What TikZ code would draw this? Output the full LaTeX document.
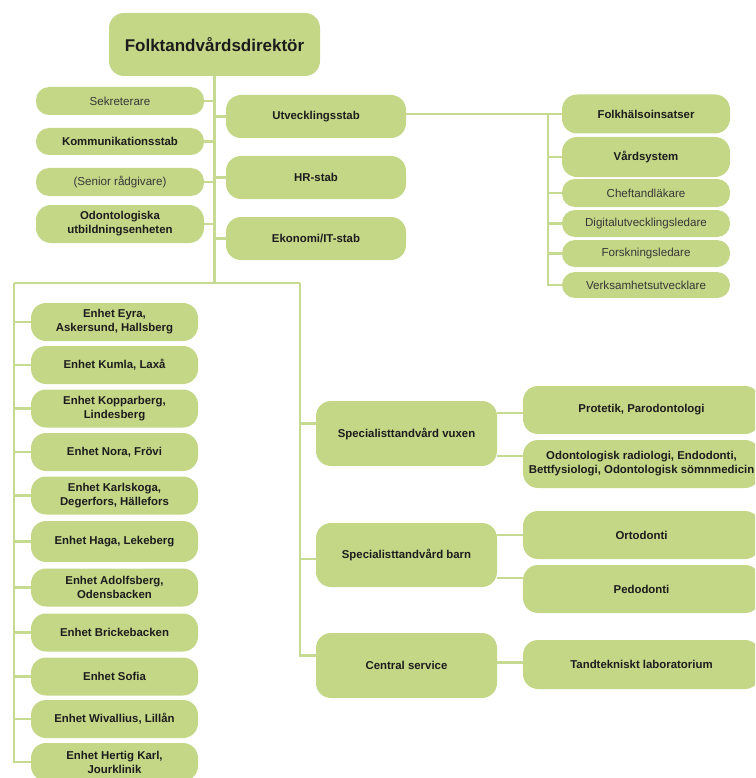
\documentclass[tikz,border=0pt]{standalone}
\usepackage{fontspec}
\setmainfont{Liberation Sans}
\definecolor{boxgreen}{RGB}{195,215,135}
\definecolor{linegreen}{RGB}{198,218,146}
\definecolor{txtdark}{RGB}{28,28,28}
\definecolor{txtgray}{RGB}{55,55,55}
\begin{document}
\begin{tikzpicture}[x=1pt,y=-1pt,
  box/.style={fill=boxgreen, draw=none, rounded corners=13pt, align=center, inner sep=0pt,
    text=txtdark, font=\fontsize{11.4}{14}\selectfont\bfseries},
  plainbox/.style={box, text=txtgray, font=\fontsize{11.6}{14}\selectfont},
  bigr/.style={rounded corners=15pt},
  conn/.style={draw=linegreen, line width=2.2pt}]
\useasboundingbox (0,0) rectangle (755,778);
\clip (0,0) rectangle (755,778);
% coordinates for connector junctions
\coordinate (tB) at (214.5,283);
\coordinate (lc) at (14,283);
\coordinate (rc) at (300,283);
\coordinate (rv) at (548,114);
% boxes
\node[box, bigr, minimum width=211pt, minimum height=63pt, font=\fontsize{17}{20}\selectfont\bfseries] (dir) at (214.5,44.5) {Folktandvårdsdirektör};
\node[plainbox, minimum width=168pt, minimum height=28pt] (sek) at (120,101) {Sekreterare};
\node[box, minimum width=168pt, minimum height=27pt] (komm) at (120,141.5) {Kommunikationsstab};
\node[plainbox, minimum width=168pt, minimum height=28pt] (sen) at (120,182) {(Senior rådgivare)};
\node[box, bigr, minimum width=168pt, minimum height=38pt] (odo) at (120,224) {Odontologiska\\utbildningsenheten};
\node[box, bigr, minimum width=180pt, minimum height=43pt] (utv) at (316,116.5) {Utvecklingsstab};
\node[box, bigr, minimum width=180pt, minimum height=43pt] (hr) at (316,177.5) {HR-stab};
\node[box, bigr, minimum width=180pt, minimum height=43pt] (eko) at (316,238.5) {Ekonomi/IT-stab};
% right staff column
\node[box, bigr, minimum width=168pt, minimum height=39pt] (fh) at (646,114) {Folkhälsoinsatser};
\node[box, bigr, minimum width=168pt, minimum height=40pt] (vs) at (646,157) {Vårdsystem};
\node[plainbox, minimum width=168pt, minimum height=28pt] (ch) at (646,193) {Cheftandläkare};
\node[plainbox, minimum width=168pt, minimum height=27pt] (dig) at (646,223.5) {Digitalutvecklingsledare};
\node[plainbox, minimum width=168pt, minimum height=27pt] (fo) at (646,253.5) {Forskningsledare};
\node[plainbox, minimum width=168pt, minimum height=26pt] (ve) at (646,285) {Verksamhetsutvecklare};
% units
\begin{scope}[every node/.style={box, bigr, minimum width=167pt, minimum height=38pt}]
\node (u1) at (114.5,322) {Enhet Eyra,\\Askersund, Hallsberg};
\node (u2) at (114.5,365) {Enhet Kumla, Laxå};
\node (u3) at (114.5,408.5) {Enhet Kopparberg,\\Lindesberg};
\node (u4) at (114.5,452) {Enhet Nora, Frövi};
\node (u5) at (114.5,495.5) {Enhet Karlskoga,\\Degerfors, Hällefors};
\node[minimum height=41pt] (u6) at (114.5,541.5) {Enhet Haga, Lekeberg};
\node (u7) at (114.5,587.5) {Enhet Adolfsberg,\\Odensbacken};
\node (u8) at (114.5,632.5) {Enhet Brickebacken};
\node (u9) at (114.5,676.5) {Enhet Sofia};
\node (u10) at (114.5,719) {Enhet Wivallius, Lillån};
\node (u11) at (114.5,762) {Enhet Hertig Karl,\\Jourklinik};
\end{scope}
% specialist
\node[box, bigr, minimum width=181pt, minimum height=65pt] (sv) at (406.5,433.5) {Specialisttandvård vuxen};
\node[box, bigr, minimum width=181pt, minimum height=64pt] (sb) at (406.5,555) {Specialisttandvård barn};
\node[box, bigr, minimum width=181pt, minimum height=65pt] (cs) at (406.5,665.5) {Central service};
\node[box, bigr, minimum width=237pt, minimum height=48pt] (pro) at (641.5,410) {Protetik, Parodontologi};
\node[box, bigr, minimum width=237pt, minimum height=48pt] (rad) at (641.5,464) {Odontologisk radiologi, Endodonti,\\Bettfysiologi, Odontologisk sömnmedicin};
\node[box, bigr, minimum width=237pt, minimum height=48pt] (ort) at (641.5,535) {Ortodonti};
\node[box, bigr, minimum width=237pt, minimum height=48pt] (ped) at (641.5,589) {Pedodonti};
\node[box, bigr, minimum width=237pt, minimum height=49pt] (tl) at (641.5,664.5) {Tandtekniskt laboratorium};
% connectors
\begin{scope}[conn]
\draw (dir.south) -- (tB);
\draw (lc) -- (rc);
\foreach \n in {sek,komm,sen,odo} \draw (\n.east) -- (\n.east -| tB);
\foreach \n in {utv,hr,eko} \draw (\n.west) -- (\n.west -| tB);
\draw (fh.west -| utv.east) -- (fh.west);
\draw (fh.west -| rv) |- (ve.west);
\foreach \n in {vs,ch,dig,fo} \draw (\n.west -| rv) -- (\n.west);
\draw (lc) |- (u11.west);
\foreach \n in {u1,u2,u3,u4,u5,u6,u7,u8,u9,u10} \draw (\n.west -| lc) -- (\n.west);
\draw (rc) |- ([yshift=10pt]cs.west);
\draw ([yshift=10pt]sv.west -| rc) -- ([yshift=10pt]sv.west);
\draw ([yshift=-4pt]sb.west -| rc) -- ([yshift=-4pt]sb.west);
\draw ([yshift=-3pt]pro.west) -- ([yshift=-3pt]pro.west -| sv.east);
\draw ([yshift=8pt]rad.west) -- ([yshift=8pt]rad.west -| sv.east);
\draw (ort.west) -- (ort.west -| sb.east);
\draw ([yshift=11pt]ped.west) -- ([yshift=11pt]ped.west -| sb.east);
\draw ([yshift=2pt]tl.west) -- ([yshift=2pt]tl.west -| cs.east);
\end{scope}
\end{tikzpicture}
\end{document}
